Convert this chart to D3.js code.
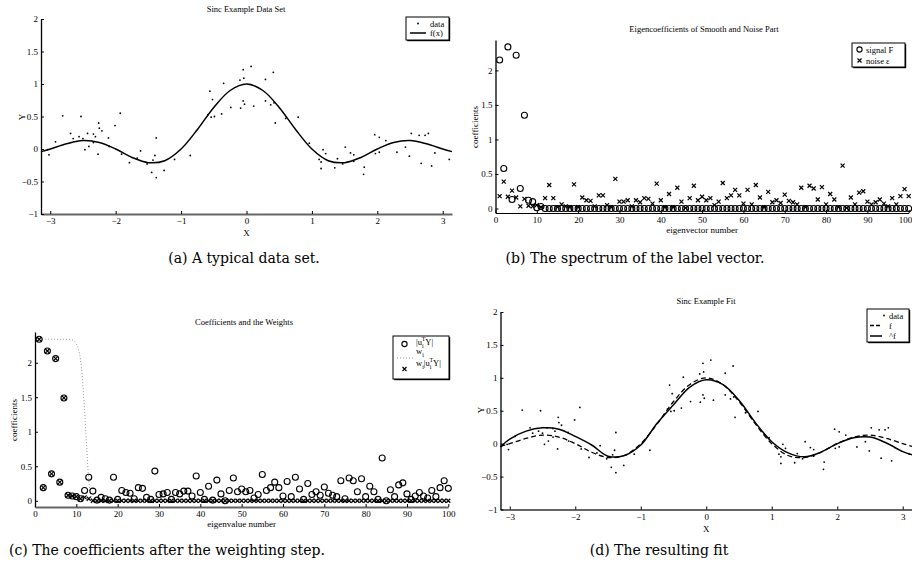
<!DOCTYPE html>
<html>
<head>
<meta charset="utf-8">
<script src="https://cdn.jsdelivr.net/npm/d3@7"></script>
<style>
  body { margin: 0; background: #fff; }
  text { font-family: "Liberation Serif", "Times New Roman", serif; fill: #000; }
  .cap { font-family: "DejaVu Serif", serif; font-size: 14px; }
  .tick text { font-family: "Liberation Serif", serif; font-size: 9px; }
</style>
</head>
<body>
<svg width="912" height="574"></svg>
<script>
// noisy samples of the sinc data set (used in a and d)
const dataX = [-3.02,-3.04,-2.92,-2.81,-2.69,-2.65,-2.56,-2.53,-2.50,-2.47,-2.43,-2.41,-2.34,-2.31,-2.34,-2.27,-2.26,-2.25,-2.21,-2.11,-2.10,-2.01,-1.93,-1.91,-1.79,-1.67,-1.62,-1.52,-1.45,-1.43,-1.40,-1.38,-1.38,-1.26,-1.10,-0.86,-0.59,-0.56,-0.54,-0.52,-0.49,-0.38,-0.35,-0.24,-0.10,
  -0.09,-0.05,-0.04,-0.05,-0.03,0.07,0.11,0.29,0.29,0.37,0.41,0.42,0.44,0.60,0.79,0.96,1.11,1.14,1.14,1.17,1.21,1.35,1.39,1.47,1.51,1.59,1.64,1.64,1.80,1.79,1.96,1.97,2.03,2.03,2.13,2.30,2.43,2.49,2.52,2.64,2.67,2.73,2.78,2.83,2.88,3.10];
const dataY = [-0.09,-0.01,0.11,0.51,0.24,0.16,0.19,0.50,0.16,-0.01,0.24,0.04,0.23,0.19,0.10,-0.08,0.40,0.32,0.28,0.17,0.04,0.36,0.55,-0.08,-0.21,-0.14,-0.03,-0.23,-0.36,-0.17,-0.10,0.17,-0.44,-0.33,-0.16,-0.10,0.53,0.89,0.49,0.76,0.50,0.54,1.01,0.64,1.06,
  0.63,1.22,1.09,0.74,0.69,1.27,0.66,1.07,0.74,0.68,1.18,0.71,0.40,0.47,0.49,0.09,-0.16,-0.20,-0.30,-0.01,-0.07,-0.29,-0.15,-0.23,0.03,-0.06,-0.09,-0.19,-0.28,-0.39,0.22,-0.07,0.18,-0.05,0.13,-0.05,0.03,-0.11,0.24,0.21,-0.22,0.21,0.24,-0.26,-0.06,-0.16];

// true function f and fitted ^f, read at these x positions
const curveX = [-3.1416,-3,-2.75,-2.5,-2.25,-2,-1.75,-1.5,-1.25,-1,-0.75,-0.5,-0.25,0,0.25,0.5,0.75,1,1.25,1.5,1.75,2,2.25,2.5,2.75,3,3.1416];
const fY     = [-0.04,0,0.08,0.13,0.10,0,-0.13,-0.21,-0.18,0,0.30,0.64,0.90,1,0.90,0.64,0.30,0,-0.18,-0.21,-0.13,0,0.10,0.13,0.08,0,-0.04];
const fHatY  = [-0.05,0.07,0.19,0.24,0.22,0.11,-0.02,-0.19,-0.18,-0.02,0.31,0.59,0.86,0.97,0.90,0.66,0.32,0.03,-0.14,-0.20,-0.13,0.0,0.09,0.10,0.01,-0.12,-0.17];

// eigencoefficients, index 1..100
const signalF = [2.15,0.58,2.34,0.13,2.22,0.29,1.35,0.12,0.10,0.01,0.03,0,0,0,0,0,0,0,0,0,
  0,0,0,0,0,0,0,0,0,0,0,0,0,0,0,0,0,0,0,0,0,0,0,0,0,0,0,0,0,0,
  0,0,0,0,0,0,0,0,0,0,0,0,0,0,0,0,0,0,0,0,0,0,0,0,0,0,0,0,0,0,
  0,0,0,0,0,0,0,0,0,0,0,0,0,0,0,0,0,0,0,0];
const noiseE = [0.18,0.39,0.17,0.26,0.16,0.03,0.14,0.04,0.03,0.05,0.02,0.15,0.34,0.15,0.02,0.06,0.03,0.02,0.35,0.02,
  0.16,0.12,0.11,0.03,0.19,0.19,0.05,0.02,0.43,0.10,0.10,0.12,0.03,0.12,0.09,0.15,0.14,0.07,0.36,0.12,
  0.02,0.21,0.02,0.30,0.10,0.01,0.15,0.33,0.12,0.17,0.12,0.15,0.05,0.10,0.37,0.15,0.19,0.27,0.19,0.07,
  0.27,0.06,0.34,0.16,0.02,0.24,0.09,0.12,0.08,0.20,0.11,0.09,0.06,0.30,0.02,0.33,0.29,0.13,0.31,0.06,
  0.21,0.13,0.02,0.62,0.01,0.16,0.06,0.23,0.25,0.10,0.06,0.09,0.13,0.07,0.03,0.15,0.06,0.18,0.28,0.18];
const absCoef = [2.34,0.19,2.17,0.39,2.06,0.27,1.49,0.08,0.07,0.06,0.03,0.15,0.34,0.14,0.01,0.05,0.03,0.01,0.34,0.02,
  0.15,0.12,0.11,0.03,0.19,0.18,0.05,0.02,0.43,0.09,0.10,0.12,0.02,0.12,0.10,0.14,0.14,0.07,0.36,0.12,
  0.02,0.21,0.01,0.30,0.10,0.00,0.15,0.33,0.13,0.17,0.13,0.15,0.04,0.09,0.38,0.15,0.19,0.27,0.19,0.07,
  0.28,0.06,0.34,0.17,0.02,0.25,0.09,0.13,0.08,0.20,0.11,0.08,0.06,0.29,0.03,0.33,0.29,0.13,0.32,0.06,
  0.21,0.13,0.02,0.62,0.00,0.16,0.06,0.23,0.26,0.10,0.02,0.07,0.12,0.07,0.04,0.15,0.06,0.19,0.29,0.18];
const weighted = [2.34,0.19,2.17,0.39,2.06,0.27,1.49,0.08,0.07,0.06,0.03,0.05,0.03,0,0,0,0,0,0,0,
  0,0,0,0,0,0,0,0,0,0,0,0,0,0,0,0,0,0,0,0,0,0,0,0,0,0,0,0,0,0,
  0,0,0,0,0,0,0,0,0,0,0,0,0,0,0,0,0,0,0,0,0,0,0,0,0,0,0,0,0,0,
  0,0,0,0,0,0,0,0,0,0,0,0,0,0,0,0,0,0,0,0];
// weight curve w_i (scaled to the largest coefficient)
const weightN = [1,8,9,10,10.5,11,11.5,12,12.5,13,13.5,14,15,100];
const weightV = [2.34,2.34,2.33,2.27,2.2,2.05,1.75,1.3,0.78,0.3,0.08,0.02,0,0];

const piTicks = [-3,-2,-1,0,1,2,3];
const yTicksSinc = [-1,-0.5,0,0.5,1,1.5,2];
const idxTicks = [0,10,20,30,40,50,60,70,80,90,100];
const yTicksCoef = [0,0.5,1,1.5,2];

const svg = d3.select("svg");
const fmt = d => String(d).replace("-", "\u2212");

function panel(o) {
  const g = svg.append("g");
  const x = d3.scaleLinear().domain(o.xd).range(o.xr);
  const y = d3.scaleLinear().domain(o.yd).range(o.yr);
  const xa = g.append("g").attr("transform", `translate(0,${o.yr[0]})`)
    .call(d3.axisBottom(x).tickValues(o.xt).tickFormat(fmt).tickSizeInner(-3).tickSizeOuter(0).tickPadding(4));
  xa.select(".domain").attr("stroke", o.xcol || "#666").attr("stroke-width", o.xw || 2);
  const ya = g.append("g").attr("transform", `translate(${o.xr[0]},0)`)
    .call(d3.axisLeft(y).tickValues(o.yt).tickFormat(fmt).tickSizeInner(-3).tickSizeOuter(0).tickPadding(3));
  ya.select(".domain").attr("stroke-width", 1.3);
  g.selectAll(".tick line").attr("stroke-width", 1);
  g.append("text").attr("x", o.tx).attr("y", o.ty).attr("text-anchor", "middle")
    .attr("font-size", 8.5).text(o.title);
  g.append("text").attr("x", (o.xr[0] + o.xr[1]) / 2).attr("y", o.xly).attr("text-anchor", "middle")
    .attr("font-size", 9).text(o.xlabel);
  g.append("text").attr("transform", `translate(${o.ylx},${o.yly}) rotate(-90)`).attr("text-anchor", "middle")
    .attr("font-size", 9).text(o.ylabel);
  return { g, x, y, xa };
}

function legendBox(g, x0, y0, w, h) {
  g.append("rect").attr("x", x0 + 1.2).attr("y", y0 + 1.2).attr("width", w).attr("height", h).attr("fill", "#000");
  g.append("rect").attr("x", x0).attr("y", y0).attr("width", w).attr("height", h)
    .attr("fill", "#fff").attr("stroke", "#000").attr("stroke-width", 1);
}

const crossPath = "M-2,-2L2,2M-2,2L2,-2";
const line = (x, y) => d3.line().x((d, i) => x(curveX[i])).y(d => y(d)).curve(d3.curveCatmullRom);

// (a) data set
{
  const { g, x, y } = panel({ xd: [-Math.PI, Math.PI], xr: [41, 452], yd: [-1, 2], yr: [214, 19],
    xt: piTicks, yt: yTicksSinc, title: "Sinc Example Data Set", tx: 246, ty: 12,
    xlabel: "X", xly: 236, ylabel: "Y", ylx: 25, yly: 117 });
  g.selectAll(".pt").data(dataX).join("circle").attr("cx", d => x(d)).attr("cy", (d, i) => y(dataY[i]))
    .attr("r", 0.9).attr("fill", "#000");
  g.append("path").attr("d", line(x, y)(fY)).attr("fill", "none").attr("stroke", "#000").attr("stroke-width", 1.5);
  legendBox(g, 406, 17, 43, 23);
  g.append("circle").attr("cx", 418).attr("cy", 23.5).attr("r", 0.9);
  g.append("text").attr("x", 430).attr("y", 26.5).attr("font-size", 8.5).text("data");
  g.append("line").attr("x1", 410).attr("x2", 426).attr("y1", 33).attr("y2", 33).attr("stroke", "#000").attr("stroke-width", 1.5);
  g.append("text").attr("x", 430).attr("y", 36).attr("font-size", 8.5).text("f(x)");
}

// (b) spectrum
{
  const { g, x, y, xa } = panel({ xd: [0, 100], xr: [495.5, 908.7], yd: [-0.065, 2.44], yr: [213, 40],
    xt: idxTicks, yt: yTicksCoef, title: "Eigencoefficients of Smooth and Noise Part", tx: 704, ty: 32,
    xlabel: "eigenvector number", xly: 233, ylabel: "coefficients", ylx: 478, yly: 127, xcol: "#000", xw: 1.2 });
  // last tick label sits at the page edge: keep it inside
  xa.selectAll(".tick text").filter(d => d === 100).attr("text-anchor", "end").attr("dx", 3);
  g.selectAll(".sig").data(signalF).join("circle").attr("cx", (d, i) => x(i + 1)).attr("cy", d => y(d))
    .attr("r", 3).attr("fill", "none").attr("stroke", "#000").attr("stroke-width", 1.1);
  g.selectAll(".noi").data(noiseE).join("path").attr("d", crossPath)
    .attr("transform", (d, i) => `translate(${x(i + 1)},${y(d)})`).attr("stroke", "#000").attr("stroke-width", 1.2);
  legendBox(g, 852, 43, 53, 24);
  g.append("circle").attr("cx", 859.5).attr("cy", 49.5).attr("r", 2.6).attr("fill", "none").attr("stroke", "#000").attr("stroke-width", 1.1);
  g.append("text").attr("x", 866).attr("y", 52.5).attr("font-size", 8.5).text("signal F");
  g.append("path").attr("d", crossPath).attr("transform", "translate(859.5,60.5)").attr("stroke", "#000").attr("stroke-width", 1.2);
  g.append("text").attr("x", 866).attr("y", 63.5).attr("font-size", 8.5).text("noise \u03b5");
}

// (c) weighted coefficients
{
  const { g, x, y } = panel({ xd: [0, 100], xr: [35, 448.3], yd: [-0.09, 2.445], yr: [507, 332],
    xt: idxTicks, yt: yTicksCoef, title: "Coefficients and the Weights", tx: 244, ty: 325,
    xlabel: "eigenvalue number", xly: 527, ylabel: "coefficients", ylx: 17, yly: 420 });
  g.append("path").attr("d", d3.line().x((d, i) => x(weightN[i])).y(d => y(d)).curve(d3.curveMonotoneX)(weightV))
    .attr("fill", "none").attr("stroke", "#999").attr("stroke-width", 1).attr("stroke-dasharray", "1,2");
  g.selectAll(".abs").data(absCoef).join("circle").attr("cx", (d, i) => x(i + 1)).attr("cy", d => y(d))
    .attr("r", 3).attr("fill", "none").attr("stroke", "#000").attr("stroke-width", 1.1);
  g.selectAll(".wgt").data(weighted).join("path").attr("d", crossPath)
    .attr("transform", (d, i) => `translate(${x(i + 1)},${y(d)})`).attr("stroke", "#000").attr("stroke-width", 1.2);
  legendBox(g, 393, 336, 56, 43);
  g.append("circle").attr("cx", 404.5).attr("cy", 344).attr("r", 2.6).attr("fill", "none").attr("stroke", "#000").attr("stroke-width", 1.1);
  const t1 = g.append("text").attr("x", 416).attr("y", 345).attr("font-size", 8.5);
  t1.append("tspan").text("|u");
  t1.append("tspan").attr("dy", 3).attr("font-size", 6).text("i");
  t1.append("tspan").attr("dy", -7).attr("dx", -2).attr("font-size", 6).text("T");
  t1.append("tspan").attr("dy", 4).text("Y|");
  g.append("line").attr("x1", 397).attr("x2", 413).attr("y1", 358).attr("y2", 358)
    .attr("stroke", "#999").attr("stroke-dasharray", "1,2");
  const t2 = g.append("text").attr("x", 416).attr("y", 354).attr("font-size", 8.5);
  t2.append("tspan").text("w");
  t2.append("tspan").attr("dy", 3).attr("font-size", 6).text("i");
  g.append("path").attr("d", crossPath).attr("transform", "translate(404.5,369)").attr("stroke", "#000").attr("stroke-width", 1.2);
  const t3 = g.append("text").attr("x", 416).attr("y", 366).attr("font-size", 8.5);
  t3.append("tspan").text("w");
  t3.append("tspan").attr("dy", 3).attr("font-size", 6).text("i");
  t3.append("tspan").attr("dy", -3).text("|u");
  t3.append("tspan").attr("dy", 3).attr("font-size", 6).text("i");
  t3.append("tspan").attr("dy", -7).attr("dx", -2).attr("font-size", 6).text("T");
  t3.append("tspan").attr("dy", 4).text("Y|");
}

// (d) fit
{
  const { g, x, y } = panel({ xd: [-Math.PI, Math.PI], xr: [500.5, 912], yd: [-1, 2], yr: [509.5, 312],
    xt: piTicks, yt: yTicksSinc, title: "Sinc Example Fit", tx: 706, ty: 304,
    xlabel: "X", xly: 532, ylabel: "Y", ylx: 484, yly: 410 });
  g.selectAll(".pt").data(dataX).join("circle").attr("cx", d => x(d)).attr("cy", (d, i) => y(dataY[i]))
    .attr("r", 0.9).attr("fill", "#000");
  g.append("path").attr("d", line(x, y)(fY)).attr("fill", "none").attr("stroke", "#000")
    .attr("stroke-width", 1.3).attr("stroke-dasharray", "5,3");
  g.append("path").attr("d", line(x, y)(fHatY)).attr("fill", "none").attr("stroke", "#000").attr("stroke-width", 1.5);
  legendBox(g, 867, 309, 42, 33);
  g.append("circle").attr("cx", 884).attr("cy", 315.5).attr("r", 0.9);
  g.append("text").attr("x", 889).attr("y", 318.5).attr("font-size", 8.5).text("data");
  g.append("line").attr("x1", 870).attr("x2", 882).attr("y1", 325.5).attr("y2", 325.5)
    .attr("stroke", "#000").attr("stroke-width", 1.3).attr("stroke-dasharray", "4,2");
  g.append("text").attr("x", 889).attr("y", 328.5).attr("font-size", 8.5).text("f");
  g.append("line").attr("x1", 870).attr("x2", 882).attr("y1", 336).attr("y2", 336).attr("stroke", "#000").attr("stroke-width", 1.5);
  g.append("text").attr("x", 889).attr("y", 339).attr("font-size", 8.5).text("^f");
}

// sub-figure captions
const captions = ["(a) A typical data set.", "(b) The spectrum of the label vector.",
  "(c) The coefficients after the weighting step.", "(d) The resulting fit"];
const capX = [244, 635, 167, 659];
const capY = [263, 263, 555, 555];
svg.selectAll(".cap").data(captions).join("text").attr("class", "cap")
  .attr("x", (d, i) => capX[i]).attr("y", (d, i) => capY[i]).attr("text-anchor", "middle").text(d => d);
</script>
</body>
</html>
